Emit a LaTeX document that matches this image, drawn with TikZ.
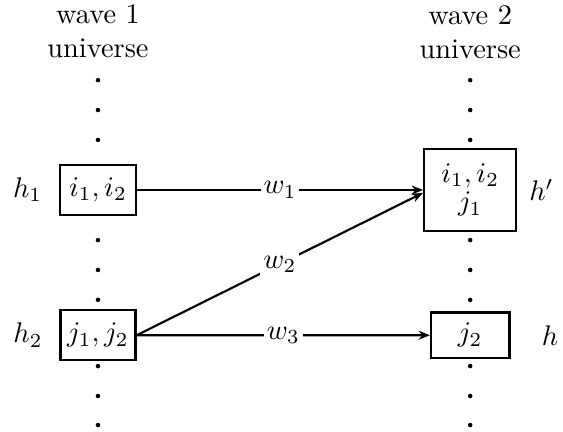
\documentclass[tikz,border=0pt]{standalone}
\usepackage{amsmath,amsfonts}
\usepackage{xcolor}
\usepackage{tikz}
\usetikzlibrary{arrows.meta, positioning}

\begin{document}
\begin{tikzpicture}[
    node distance=0.27cm and 0.3cm,
    hyp/.style={rectangle, draw, line width=0.8pt, inner sep=0pt, align=center},
    tag/.style={inner sep=0pt},
    title/.style={inner sep=0pt, align=center},
    weight/.style={fill=white, inner sep=1pt},
    arrow/.style={-{Stealth[length=1.4mm, width=1.1mm]}, line width=0.75pt},
]
\useasboundingbox (-1.213,-2.984) rectangle (5.757,2.352);

\node[hyp, minimum width=0.94cm, minimum height=0.62cm] (i12) {$i_1, i_2$};
\node[hyp, minimum width=0.93cm, minimum height=0.62cm, below=1.15cm of i12] (j12) {$j_1, j_2$};
\node[hyp, minimum width=1.14cm, minimum height=1.02cm, right=3.54cm of i12] (i12j1) {$i_1, i_2$\\[-2pt]$j_1$};
\node[hyp, minimum width=0.97cm, minimum height=0.56cm, below=0.98cm of i12j1] (j2) {$j_2$};

\node[tag, left=0.2cm of i12] (h1) {$h_1$};
\node[tag, left=0.2cm of j12] (h2) {$h_2$};
\node[tag, right=0.14cm of i12j1] (hp) {$h'$};
\node[tag, right=0.38cm of j2] (h) {$h$};

\node[title, above=1.3cm of i12] (wave1) {wave 1\\universe};
\node[title, above=1.09cm of i12j1] (wave2) {wave 2\\universe};

% dotted universe columns
\foreach \col in {i12, i12j1}
  \foreach \dy in {1.36, 0.99, 0.62, -0.62, -0.99, -1.36, -2.18, -2.55, -2.91}
    \fill ([yshift=\dy cm]\col.center) circle (0.8pt);

\draw[arrow] (i12) -- node[weight] {$w_1$} (i12j1);
\draw[arrow] (j12.east) -- node[weight] {$w_2$} ([yshift=-1pt]i12j1.west);
\draw[arrow] (j12) -- node[weight] {$w_3$} (j2);

\end{tikzpicture}
\end{document}
